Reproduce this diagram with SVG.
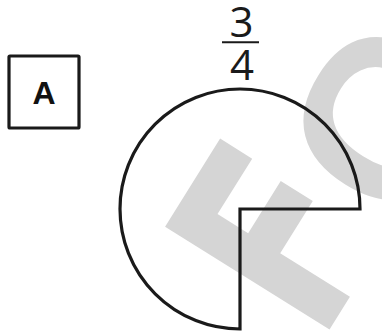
<svg xmlns="http://www.w3.org/2000/svg" width="382" height="335" viewBox="0 0 382 335">
<style>
.ln{fill:none;stroke:#1a1a1a;stroke-width:3.2}
.wm{fill:#d5d5d5;font-weight:bold}
.lbl{font-family:"Liberation Sans",Arial,sans-serif;font-weight:bold;font-size:32px;fill:#111}
.fr{font-family:"Open Sans","Liberation Sans",sans-serif;font-size:42px;fill:#1a1a1a}
</style>
<rect width="382" height="335" fill="#fff"/>
<g id="watermark">
<text class="wm" font-family="DejaVu Sans, sans-serif" font-size="266" transform="translate(329.5,329.5) rotate(-58) scale(0.77,1)" x="-24.4">F</text>
<text class="wm" font-family="Liberation Sans, Arial, sans-serif" font-size="230" transform="translate(408,234.7) rotate(-58)">C</text>
</g>
<g id="label-a">
<rect class="ln" x="9" y="56" width="70" height="72" rx="1"/>
<text class="lbl" x="44" y="103.5" text-anchor="middle">A</text>
</g>
<g id="fraction">
<text class="fr" x="241.5" y="36.7" text-anchor="middle">3</text>
<line x1="222" y1="42.3" x2="259" y2="42.3" stroke="#1a1a1a" stroke-width="2"/>
<text class="fr" x="242" y="80" text-anchor="middle">4</text>
</g>
<g id="shape">
<path class="ln" d="M240,209 H360 A120,120 0 1 0 240,329 Z" stroke-linejoin="miter"/>
</g>
</svg>
